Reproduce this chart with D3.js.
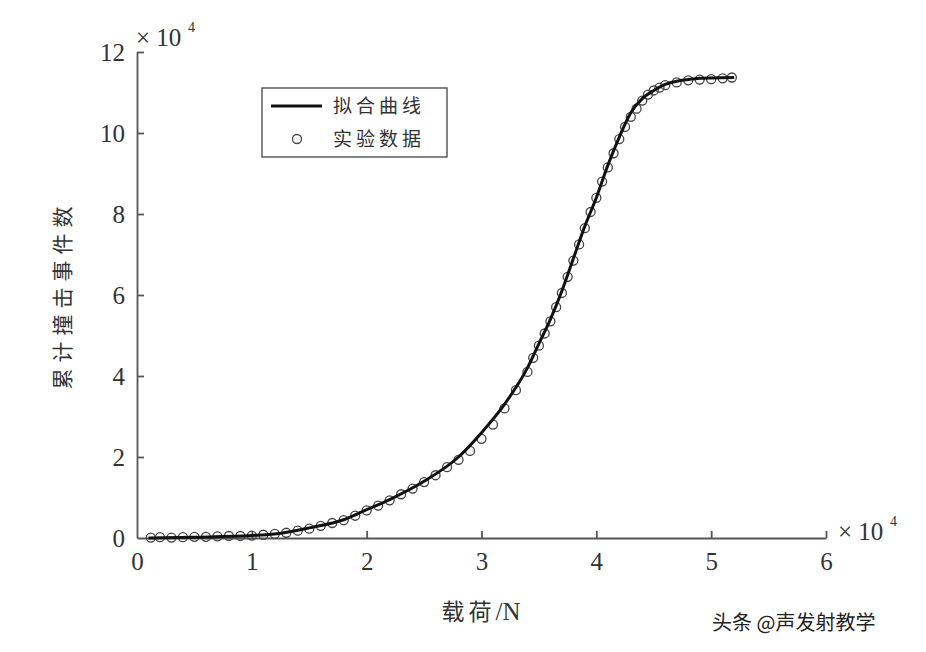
<!DOCTYPE html>
<html><head><meta charset="utf-8">
<script src="https://cdn.jsdelivr.net/npm/d3@7"></script>
<style>body{margin:0;background:#fff}</style></head>
<body><svg id="c" width="926" height="652"></svg>
<script>
const xTicks=[0,1,2,3,4,5,6];
const yTicks=[0,2,4,6,8,10,12];
const fitX=[0.1,0.5,1.0,1.2,1.5,1.8,2.0,2.2,2.5,2.8,3.0,3.2,3.4,3.5,3.6,3.7,3.8,3.9,4.0,4.1,4.2,4.3,4.4,4.5,4.6,4.7,4.8,4.9,5.0,5.2];
const fitY=[0,0.02,0.06,0.1,0.25,0.45,0.7,0.95,1.4,2.0,2.6,3.3,4.2,4.8,5.4,6.1,6.9,7.7,8.4,9.2,9.9,10.5,10.85,11.05,11.2,11.28,11.32,11.35,11.36,11.37];
const expX=[0.12,0.2,0.3,0.4,0.5,0.6,0.7,0.8,0.9,1.0,1.1,1.2,1.3,1.4,1.5,1.6,1.7,1.8,1.9,2.0,2.1,2.2,2.3,2.4,2.5,2.6,2.7,2.8,2.9,3.0,3.1,3.2,3.3,3.4,3.45,3.5,3.55,3.6,3.65,3.7,3.75,3.8,3.85,3.9,3.95,4.0,4.05,4.1,4.15,4.2,4.25,4.3,4.35,4.4,4.45,4.5,4.55,4.6,4.7,4.8,4.9,5.0,5.1,5.18];
const expY=[0.01,0.02,0.01,0.02,0.03,0.03,0.04,0.05,0.05,0.06,0.08,0.1,0.13,0.18,0.23,0.3,0.37,0.44,0.55,0.68,0.8,0.93,1.08,1.22,1.38,1.55,1.75,1.93,2.15,2.45,2.8,3.2,3.65,4.1,4.45,4.75,5.05,5.35,5.7,6.05,6.45,6.85,7.25,7.65,8.05,8.4,8.8,9.15,9.5,9.85,10.15,10.4,10.6,10.8,10.95,11.05,11.12,11.18,11.25,11.3,11.32,11.33,11.35,11.37];

const svg=d3.select("#c");
const L=137,R=826,T=52,B=538;
const x=d3.scaleLinear().domain([0,6]).range([L,R]);
const y=d3.scaleLinear().domain([0,12]).range([B,T]);
const grey="#555",serif="'Liberation Serif','Times New Roman',serif",cjk="'Noto Sans CJK SC',sans-serif";

const gx=svg.append("g").attr("transform",`translate(0,${B})`)
 .call(d3.axisBottom(x).tickValues(xTicks).tickFormat(d3.format("d")).tickSizeInner(-7).tickSizeOuter(0).tickPadding(14));
const gy=svg.append("g").attr("transform",`translate(${L},0)`)
 .call(d3.axisLeft(y).tickValues(yTicks).tickFormat(d3.format("d")).tickSizeInner(-7).tickSizeOuter(0).tickPadding(12));
[gx,gy].forEach(g=>{g.selectAll("path,line").attr("stroke",grey).attr("stroke-width",1.8);
 g.selectAll("text").attr("font-family",serif).attr("font-size",25).attr("fill","#333");});
gx.selectAll(".tick").filter(d=>d===0).select("line").remove();
gy.selectAll(".tick").filter(d=>d===0).select("line").remove();

svg.append("text").attr("x",136).attr("y",46).attr("font-family",serif).attr("font-size",25).attr("fill","#333").text("× 10");
svg.append("text").attr("x",188).attr("y",32).attr("font-family",serif).attr("font-size",14).attr("fill","#333").text("4");
svg.append("text").attr("x",838).attr("y",540).attr("font-family",serif).attr("font-size",25).attr("fill","#333").text("× 10");
svg.append("text").attr("x",890).attr("y",526).attr("font-family",serif).attr("font-size",14).attr("fill","#333").text("4");

svg.append("text").attr("x",481).attr("y",620).attr("text-anchor","middle").attr("font-size",23).attr("fill","#333")
 .html(`<tspan font-family="${cjk}" letter-spacing="4">载荷</tspan><tspan font-family="${serif}" font-size="25">/N</tspan>`);
svg.append("text").attr("transform","translate(70,295) rotate(-90)").attr("text-anchor","middle")
 .attr("font-family",cjk).attr("font-size",21).attr("letter-spacing",6).attr("fill","#333").text("累计撞击事件数");

const pts=expX.map((v,i)=>[v,expY[i]]);
svg.append("g").selectAll("circle").data(pts).join("circle")
 .attr("cx",d=>x(d[0])).attr("cy",d=>y(d[1])).attr("r",4.5)
 .attr("fill","none").attr("stroke","#444").attr("stroke-width",1.3);
const fit=fitX.map((v,i)=>[v,fitY[i]]);
svg.append("path").datum(fit).attr("d",d3.line().x(d=>x(d[0])).y(d=>y(d[1])).curve(d3.curveMonotoneX))
 .attr("fill","none").attr("stroke","#111").attr("stroke-width",3);

const lg=svg.append("g");
lg.append("rect").attr("x",262).attr("y",88).attr("width",185).attr("height",69).attr("fill","#fff").attr("stroke","#444").attr("stroke-width",1.3);
lg.append("line").attr("x1",271).attr("x2",322).attr("y1",106).attr("y2",106).attr("stroke","#111").attr("stroke-width",3);
lg.append("circle").attr("cx",297).attr("cy",139).attr("r",4.5).attr("fill","none").attr("stroke","#444").attr("stroke-width",1.3);
lg.append("text").attr("x",333).attr("y",113).attr("font-family",cjk).attr("font-size",19).attr("letter-spacing",4).attr("fill","#333").text("拟合曲线");
lg.append("text").attr("x",333).attr("y",146).attr("font-family",cjk).attr("font-size",19).attr("letter-spacing",4).attr("fill","#333").text("实验数据");

svg.append("text").attr("x",712).attr("y",630).attr("font-family",cjk).attr("font-size",20).attr("fill","#222").text("头条 @声发射教学");
</script></body></html>
